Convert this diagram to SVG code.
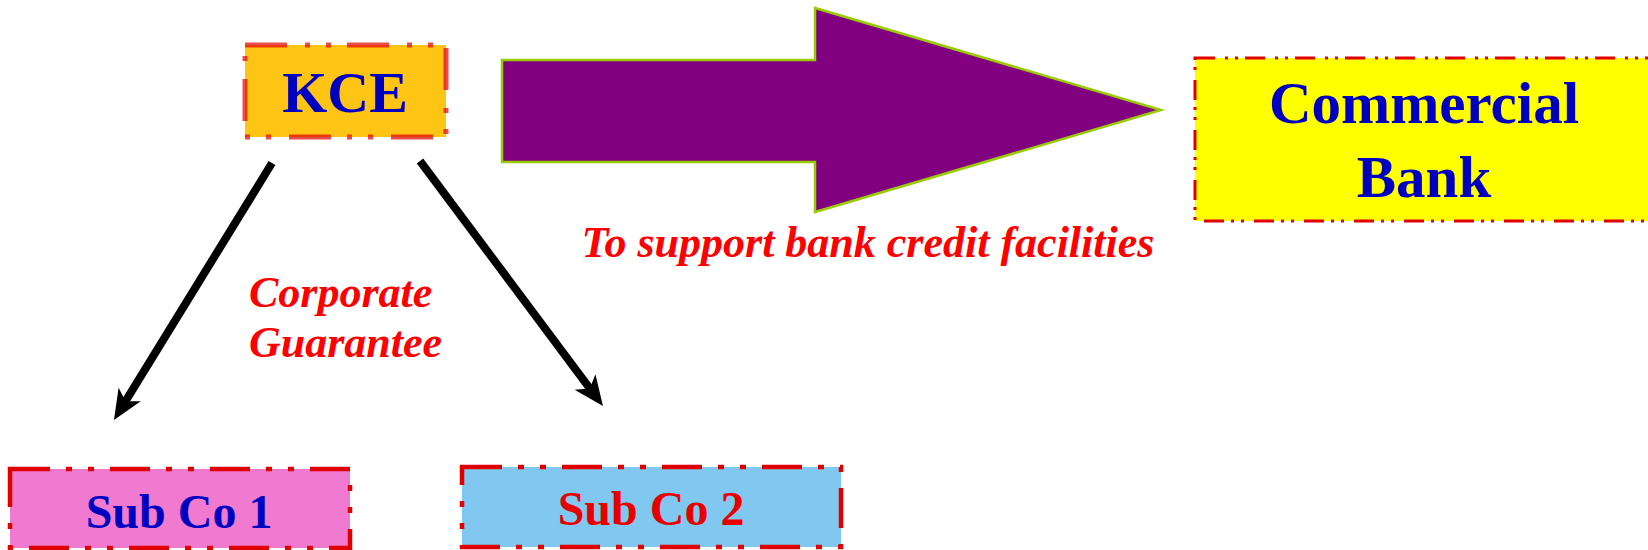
<svg xmlns="http://www.w3.org/2000/svg" width="1648" height="550" viewBox="0 0 1648 550">
  <style>
    .t { font-family: "Liberation Serif", "Times New Roman", serif; font-weight: bold; text-anchor: middle; }
    .blue { fill: #0000C0; }
    .red { fill: #FF0000; }
    .lab { font-family: "Liberation Serif", "Times New Roman", serif; font-weight: bold; font-style: italic; fill: #FF0000; font-size: 44px; }
    .ddot { stroke: #E00000; stroke-width: 4.5; stroke-dasharray: 40 16 6 16 6 16; }
    .conn { stroke: #000000; stroke-width: 8; fill: none; marker-end: url(#ah); }
  </style>
  <defs>
    <marker id="ah" markerUnits="userSpaceOnUse" viewBox="0 0 30 28" markerWidth="30" markerHeight="28" refX="12" refY="14" orient="auto">
      <path d="M0,1 L30,14 L0,27 L8,14 Z" fill="#000000"/>
    </marker>
  </defs>
  <rect width="1648" height="550" fill="#FFFFFF"/>

  <g id="connectors">
    <line class="conn" x1="272" y1="163" x2="123.4" y2="404.7"/>
    <line class="conn" x1="420" y1="161" x2="592.2" y2="391.6"/>
  </g>

  <g id="big-arrow">
    <polygon points="502,60 815,60 815,8 1161,110 815,212 815,162 502,162" fill="#800080" stroke="#99CC00" stroke-width="2.5"/>
  </g>

  <g id="kce">
    <rect x="245" y="45" width="201" height="92" fill="#FFC414" stroke="#E00000" stroke-opacity="0.7" stroke-width="5" stroke-dasharray="42 18 5 16 5 16"/>
    <text class="t blue" x="345" y="112" font-size="58">KCE</text>
  </g>

  <g id="commercial-bank">
    <rect x="1195" y="58" width="458" height="163" fill="#FFFF00" stroke="#E00000" stroke-width="3" stroke-dasharray="20 10 3 7 3 7"/>
    <text class="t blue" x="1424" y="123" font-size="59">Commercial</text>
    <text class="t blue" x="1424" y="197" font-size="59">Bank</text>
  </g>

  <g id="subco1">
    <rect x="10" y="469" width="340" height="79" fill="#F07ACF" class="ddot"/>
    <text class="t blue" x="179" y="528" font-size="48">Sub Co 1</text>
  </g>

  <g id="subco2">
    <rect x="462" y="467" width="379" height="80" fill="#80C8F0" class="ddot"/>
    <text class="t red" x="651" y="525" font-size="48" style="fill:#E80000">Sub Co 2</text>
  </g>

  <g id="labels">
    <text class="lab" x="249" y="307">Corporate</text>
    <text class="lab" x="249" y="357">Guarantee</text>
    <text class="lab" x="868" y="257" text-anchor="middle">To support bank credit facilities</text>
  </g>
</svg>
